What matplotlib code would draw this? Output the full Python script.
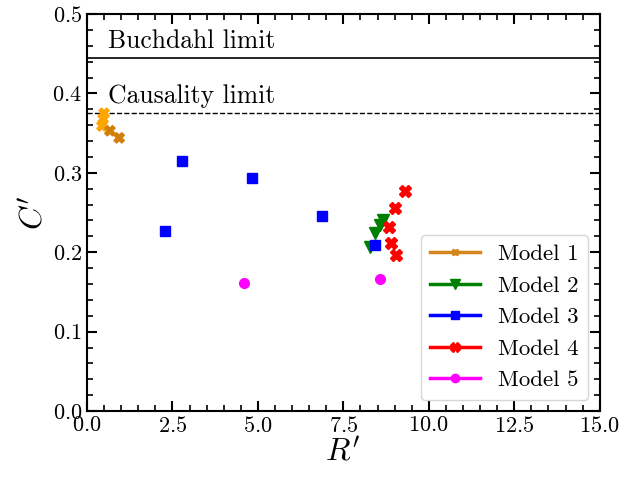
import matplotlib
matplotlib.use('Agg')
import matplotlib.pyplot as plt
from matplotlib.lines import Line2D
from matplotlib.ticker import MultipleLocator

plt.rcParams['font.family'] = 'serif'
plt.rcParams['font.serif'] = ['cmr10']
plt.rcParams['mathtext.fontset'] = 'cm'
plt.rcParams['axes.formatter.use_mathtext'] = True

# data
r1 = [0.50, 0.47, 0.44, 0.67, 0.94]
c1 = [0.375, 0.368, 0.359, 0.353, 0.344]
r2 = [8.27, 8.42, 8.57, 8.65]
c2 = [0.207, 0.224, 0.234, 0.241]
r3 = [2.28, 2.78, 4.82, 6.87, 8.42]
c3 = [0.227, 0.315, 0.293, 0.246, 0.209]
r4 = [9.30, 9.01, 8.83, 8.89, 9.04]
c4 = [0.277, 0.256, 0.232, 0.212, 0.196]
r5 = [4.59, 8.57]
c5 = [0.161, 0.166]

buchdahl = 4 / 9
causality = 0.375

fig = plt.figure(figsize=(6.26, 4.83), dpi=100)
ax = fig.add_axes([0.139, 0.149, 0.819, 0.822])

ax.axhline(buchdahl, color='black', lw=1.2)
ax.axhline(causality, color='black', lw=1.0, ls='--')
ax.text(0.6, 0.466, 'Buchdahl limit', fontsize=18.5, va='center')
ax.text(0.6, 0.397, 'Causality limit', fontsize=18.5, va='center')

col1 = ['orange', 'orange', 'orange', '#d27f0a', '#d27f0a']
ax.scatter(r1, c1, marker='X', s=55, c=col1, zorder=3)
ax.plot(r2, c2, 'v', color='green', ms=9, ls='none', zorder=3)
ax.plot(r3, c3, 's', color='blue', ms=7, ls='none', zorder=3)
ax.plot(r4, c4, 'X', color='red', ms=9, ls='none', zorder=3)
ax.plot(r5, c5, 'o', color='magenta', ms=7, ls='none', zorder=3)

handles = [
    Line2D([], [], color='#d4861c', marker='X', ms=5, lw=2.5, label='Model 1'),
    Line2D([], [], color='green', marker='v', ms=6.5, lw=2.5, label='Model 2'),
    Line2D([], [], color='blue', marker='s', ms=6, lw=2.5, label='Model 3'),
    Line2D([], [], color='red', marker='X', ms=7, lw=2.5, label='Model 4'),
    Line2D([], [], color='magenta', marker='o', ms=6, lw=2.5, label='Model 5'),
]
ax.legend(handles=handles, loc='lower right', fontsize=16.5, handlelength=2.2)

ax.set_xlim(0, 15)
ax.set_ylim(0, 0.5)
ax.xaxis.set_major_locator(MultipleLocator(2.5))
ax.xaxis.set_minor_locator(MultipleLocator(0.5))
ax.yaxis.set_major_locator(MultipleLocator(0.1))
ax.yaxis.set_minor_locator(MultipleLocator(0.02))
ax.tick_params(which='both', direction='in', top=True, right=True, labelsize=16)
ax.tick_params(which='major', length=7, width=1.5)
ax.tick_params(which='minor', length=4, width=1.2)
for s in ax.spines.values():
    s.set_linewidth(1.5)

ax.set_xlabel(r"$R'$", fontsize=23, labelpad=1)
ax.set_ylabel(r"$C'$", fontsize=23, labelpad=3)

fig.savefig('out.png', dpi=100)
